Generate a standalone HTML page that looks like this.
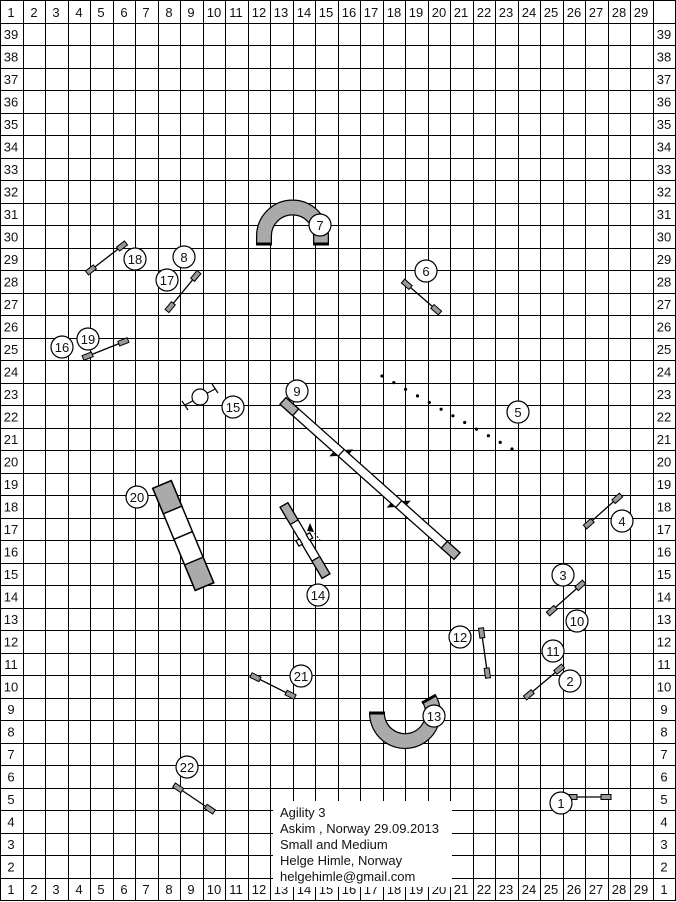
<!DOCTYPE html>
<html><head><meta charset="utf-8"><style>
html,body{margin:0;padding:0;background:#fff}
svg{display:block}
text{font-family:"Liberation Sans",sans-serif;font-size:13px;fill:#111}
</style></head><body>
<svg width="676" height="902" viewBox="0 0 676 902" xmlns="http://www.w3.org/2000/svg">
<defs>
<g id="wing"><rect x="0" y="-2.5" width="10" height="5" fill="#999" stroke="#000" stroke-width="1"/></g>
</defs>
<rect x="0" y="0" width="676" height="902" fill="#fff"/>
<path shape-rendering="crispEdges" stroke="#000" stroke-width="1" fill="none" d="
M0.5 0 V901 M23.5 0 V901 M45.5 0 V901 M68.5 0 V901 M90.5 0 V901 M113.5 0 V901 M135.5 0 V901 M158.5 0 V901 M180.5 0 V901 M203.5 0 V901 M225.5 0 V901 M248.5 0 V901 M270.5 0 V901 M293.5 0 V901 M315.5 0 V901 M338.5 0 V901 M360.5 0 V901 M383.5 0 V901 M405.5 0 V901 M428.5 0 V901 M450.5 0 V901 M473.5 0 V901 M495.5 0 V901 M518.5 0 V901 M540.5 0 V901 M563.5 0 V901 M585.5 0 V901 M608.5 0 V901 M630.5 0 V901 M653.5 0 V901 M675.5 0 V901
M0 0.5 H676 M0 23.5 H676 M0 45.5 H676 M0 68.5 H676 M0 90.5 H676 M0 113.5 H676 M0 135.5 H676 M0 158.5 H676 M0 180.5 H676 M0 203.5 H676 M0 225.5 H676 M0 248.5 H676 M0 270.5 H676 M0 293.5 H676 M0 315.5 H676 M0 338.5 H676 M0 360.5 H676 M0 383.5 H676 M0 405.5 H676 M0 428.5 H676 M0 450.5 H676 M0 473.5 H676 M0 495.5 H676 M0 518.5 H676 M0 540.5 H676 M0 563.5 H676 M0 585.5 H676 M0 608.5 H676 M0 630.5 H676 M0 653.5 H676 M0 675.5 H676 M0 698.5 H676 M0 720.5 H676 M0 743.5 H676 M0 765.5 H676 M0 788.5 H676 M0 810.5 H676 M0 833.5 H676 M0 855.5 H676 M0 878.5 H676 M0 900.5 H676"/>

<g text-anchor="middle">
<text x="11" y="17">1</text><text x="34" y="17">2</text><text x="56" y="17">3</text><text x="79" y="17">4</text><text x="101" y="17">5</text><text x="124" y="17">6</text><text x="146" y="17">7</text><text x="169" y="17">8</text><text x="191" y="17">9</text><text x="214" y="17">10</text><text x="236" y="17">11</text><text x="259" y="17">12</text><text x="281" y="17">13</text><text x="304" y="17">14</text><text x="326" y="17">15</text><text x="349" y="17">16</text><text x="371" y="17">17</text><text x="394" y="17">18</text><text x="416" y="17">19</text><text x="439" y="17">20</text><text x="461" y="17">21</text><text x="484" y="17">22</text><text x="506" y="17">23</text><text x="529" y="17">24</text><text x="551" y="17">25</text><text x="574" y="17">26</text><text x="596" y="17">27</text><text x="619" y="17">28</text><text x="641" y="17">29</text>
<text x="11" y="894">1</text><text x="34" y="894">2</text><text x="56" y="894">3</text><text x="79" y="894">4</text><text x="101" y="894">5</text><text x="124" y="894">6</text><text x="146" y="894">7</text><text x="169" y="894">8</text><text x="191" y="894">9</text><text x="214" y="894">10</text><text x="236" y="894">11</text><text x="259" y="894">12</text><text x="281" y="894">13</text><text x="304" y="894">14</text><text x="326" y="894">15</text><text x="349" y="894">16</text><text x="371" y="894">17</text><text x="394" y="894">18</text><text x="416" y="894">19</text><text x="439" y="894">20</text><text x="461" y="894">21</text><text x="484" y="894">22</text><text x="506" y="894">23</text><text x="529" y="894">24</text><text x="551" y="894">25</text><text x="574" y="894">26</text><text x="596" y="894">27</text><text x="619" y="894">28</text><text x="641" y="894">29</text>
</g>
<g text-anchor="middle">
<text x="11" y="39">39</text><text x="11" y="61.5">38</text><text x="11" y="84">37</text><text x="11" y="106.5">36</text><text x="11" y="129">35</text><text x="11" y="151.5">34</text><text x="11" y="174">33</text><text x="11" y="196.5">32</text><text x="11" y="219">31</text><text x="11" y="241.5">30</text><text x="11" y="264">29</text><text x="11" y="286.5">28</text><text x="11" y="309">27</text><text x="11" y="331.5">26</text><text x="11" y="354">25</text><text x="11" y="376.5">24</text><text x="11" y="399">23</text><text x="11" y="421.5">22</text><text x="11" y="444">21</text><text x="11" y="466.5">20</text><text x="11" y="489">19</text><text x="11" y="511.5">18</text><text x="11" y="534">17</text><text x="11" y="556.5">16</text><text x="11" y="579">15</text><text x="11" y="601.5">14</text><text x="11" y="624">13</text><text x="11" y="646.5">12</text><text x="11" y="669">11</text><text x="11" y="691.5">10</text><text x="11" y="714">9</text><text x="11" y="736.5">8</text><text x="11" y="759">7</text><text x="11" y="781.5">6</text><text x="11" y="804">5</text><text x="11" y="826.5">4</text><text x="11" y="849">3</text><text x="11" y="871.5">2</text>
<text x="664" y="39">39</text><text x="664" y="61.5">38</text><text x="664" y="84">37</text><text x="664" y="106.5">36</text><text x="664" y="129">35</text><text x="664" y="151.5">34</text><text x="664" y="174">33</text><text x="664" y="196.5">32</text><text x="664" y="219">31</text><text x="664" y="241.5">30</text><text x="664" y="264">29</text><text x="664" y="286.5">28</text><text x="664" y="309">27</text><text x="664" y="331.5">26</text><text x="664" y="354">25</text><text x="664" y="376.5">24</text><text x="664" y="399">23</text><text x="664" y="421.5">22</text><text x="664" y="444">21</text><text x="664" y="466.5">20</text><text x="664" y="489">19</text><text x="664" y="511.5">18</text><text x="664" y="534">17</text><text x="664" y="556.5">16</text><text x="664" y="579">15</text><text x="664" y="601.5">14</text><text x="664" y="624">13</text><text x="664" y="646.5">12</text><text x="664" y="669">11</text><text x="664" y="691.5">10</text><text x="664" y="714">9</text><text x="664" y="736.5">8</text><text x="664" y="759">7</text><text x="664" y="781.5">6</text><text x="664" y="804">5</text><text x="664" y="826.5">4</text><text x="664" y="849">3</text><text x="664" y="871.5">2</text><text x="664" y="894">1</text>
</g>

<rect x="273" y="801" width="179" height="86" fill="#fff"/>
<g style="font-size:12.5px">
<text x="280" y="817">Agility 3</text>
<text x="280" y="833">Askim , Norway 29.09.2013</text>
<text x="280" y="849">Small and Medium</text>
<text x="280" y="865">Helge Himle, Norway</text>
<text x="280" y="881">helgehimle@gmail.com</text>
</g>

<g stroke="#000" stroke-width="1.3">
<g transform="translate(567,797) rotate(0)"><line x1="0" y1="0" x2="44" y2="0"/><use href="#wing"/><use href="#wing" x="34"/></g>
<g transform="translate(525,698) rotate(-40.1)"><line x1="0" y1="0" x2="49.7" y2="0"/><use href="#wing"/><use href="#wing" x="39.7"/></g>
<g transform="translate(548,614) rotate(-41.6)"><line x1="0" y1="0" x2="48.2" y2="0"/><use href="#wing"/><use href="#wing" x="38.2"/></g>
<g transform="translate(585,527) rotate(-41.6)"><line x1="0" y1="0" x2="48.2" y2="0"/><use href="#wing"/><use href="#wing" x="38.2"/></g>
<g transform="translate(403,281) rotate(40.9)"><line x1="0" y1="0" x2="48.9" y2="0"/><use href="#wing"/><use href="#wing" x="38.9"/></g>
<g transform="translate(481,628) rotate(82)"><line x1="0" y1="0" x2="50.5" y2="0"/><use href="#wing"/><use href="#wing" x="40.5"/></g>
<g transform="translate(167,311) rotate(-50.6)"><line x1="0" y1="0" x2="50.4" y2="0"/><use href="#wing"/><use href="#wing" x="40.4"/></g>
<g transform="translate(87,273) rotate(-37.6)"><line x1="0" y1="0" x2="49.2" y2="0"/><use href="#wing"/><use href="#wing" x="39.2"/></g>
<g transform="translate(83,358) rotate(-21.8)"><line x1="0" y1="0" x2="48.5" y2="0"/><use href="#wing"/><use href="#wing" x="38.5"/></g>
<g transform="translate(251,675) rotate(26.6)"><line x1="0" y1="0" x2="49.2" y2="0"/><use href="#wing"/><use href="#wing" x="39.2"/></g>
<g transform="translate(174,785) rotate(34)"><line x1="0" y1="0" x2="48.3" y2="0"/><use href="#wing"/><use href="#wing" x="38.3"/></g>
</g>

<g fill="#000">
<circle cx="382" cy="376" r="1.6"/><circle cx="393.8" cy="382.6" r="1.6"/><circle cx="405.6" cy="389.3" r="1.6"/><circle cx="417.5" cy="395.9" r="1.6"/><circle cx="429.3" cy="402.5" r="1.6"/><circle cx="441.1" cy="409.2" r="1.6"/><circle cx="452.9" cy="415.8" r="1.6"/><circle cx="464.7" cy="422.5" r="1.6"/><circle cx="476.5" cy="429.1" r="1.6"/><circle cx="488.4" cy="435.7" r="1.6"/><circle cx="500.2" cy="442.4" r="1.6"/><circle cx="512" cy="449" r="1.6"/>
</g>

<g stroke="#000" stroke-width="1.2" fill="#fff">
<line x1="185" y1="405" x2="215" y2="389"/>
<line x1="182" y1="401" x2="188" y2="410"/><line x1="212" y1="384" x2="218" y2="393"/>
<circle cx="200" cy="397" r="8"/>
</g>

<!-- tunnel 7 -->
<path d="M264 243 V236 A28.5 28.5 0 0 1 321 236 V243" fill="none" stroke="#000" stroke-width="16"/>
<path d="M264 243 V236 A28.5 28.5 0 0 1 321 236 V243" fill="none" stroke="#aaa" stroke-width="13.5"/>
<line x1="256" y1="244" x2="272" y2="244" stroke="#000" stroke-width="3"/>
<line x1="313" y1="244" x2="329" y2="244" stroke="#000" stroke-width="3"/>

<!-- tunnel 13 -->
<path d="M377 713 A28 28 0 1 0 429.2 699" fill="none" stroke="#000" stroke-width="16"/>
<path d="M377 713 A28 28 0 1 0 429.2 699" fill="none" stroke="#aaa" stroke-width="13.5"/>
<line x1="369" y1="713" x2="385" y2="713" stroke="#000" stroke-width="3"/>
<line x1="422" y1="703" x2="436" y2="695" stroke="#000" stroke-width="3"/>

<g transform="translate(283,401) rotate(41.7)" stroke="#000" stroke-width="1.3">
<rect x="0" y="-4.5" width="233" height="9" fill="#fff"/>
<rect x="0" y="-4.5" width="17" height="9" fill="#aaa"/>
<rect x="216" y="-4.5" width="17" height="9" fill="#aaa"/>
<line x1="78" y1="-4.5" x2="78" y2="4.5"/><line x1="155" y1="-4.5" x2="155" y2="4.5"/>
<path d="M80 -5 L84 -9 L84 -5Z M76 5 L72 9 L72 5Z M157 -5 L161 -9 L161 -5Z M153 5 L149 9 L149 5Z" fill="#000"/>
</g>

<g transform="translate(284,505) rotate(59.4)" stroke="#000" stroke-width="1.3">
<rect x="0" y="-4.5" width="82.5" height="9" fill="#fff"/>
<rect x="0" y="-4.5" width="20" height="9" fill="#aaa"/>
<rect x="62.5" y="-4.5" width="20" height="9" fill="#aaa"/>
<rect x="37" y="-8" width="6" height="4" fill="#fff"/>
<rect x="37" y="4" width="6" height="4" fill="#fff"/>
</g>
<path d="M310 523 L314 532 L307 531Z" fill="#000"/>
<line x1="312" y1="530" x2="320" y2="540" stroke="#000" stroke-width="1" stroke-dasharray="2,2"/>

<g transform="translate(162,484.5) rotate(67.4)" stroke="#000" stroke-width="1.5">
<rect x="0" y="-10" width="110.5" height="20" fill="#fff"/>
<rect x="0" y="-10" width="27.6" height="20" fill="#aaa"/>
<rect x="82.9" y="-10" width="27.6" height="20" fill="#aaa"/>
<line x1="55.2" y1="-10" x2="55.2" y2="10"/>
</g>

<g stroke="#000" stroke-width="1.2" fill="#fff">
<circle cx="561" cy="803" r="11"/><circle cx="570" cy="681" r="11"/><circle cx="563" cy="575" r="11"/><circle cx="622" cy="521" r="11"/><circle cx="518" cy="412" r="11"/><circle cx="426" cy="271" r="11"/><circle cx="320" cy="225" r="11"/><circle cx="184" cy="257" r="11"/><circle cx="297" cy="391" r="11"/><circle cx="577" cy="621" r="11"/><circle cx="553" cy="651" r="11"/><circle cx="460" cy="637" r="11"/><circle cx="434" cy="716" r="11"/><circle cx="318" cy="595" r="11"/><circle cx="233" cy="407" r="11"/><circle cx="62" cy="347" r="11"/><circle cx="167" cy="280" r="11"/><circle cx="135" cy="259" r="11"/><circle cx="88" cy="339" r="11"/><circle cx="137" cy="497" r="11"/><circle cx="301" cy="676" r="11"/><circle cx="187" cy="767" r="11"/>
</g>
<g text-anchor="middle" style="font-size:12.5px">
<text x="561" y="808">1</text><text x="570" y="686">2</text><text x="563" y="580">3</text><text x="622" y="526">4</text><text x="518" y="417">5</text><text x="426" y="276">6</text><text x="320" y="230">7</text><text x="184" y="262">8</text><text x="297" y="396">9</text><text x="577" y="626">10</text><text x="553" y="656">11</text><text x="460" y="642">12</text><text x="434" y="721">13</text><text x="318" y="600">14</text><text x="233" y="412">15</text><text x="62" y="352">16</text><text x="167" y="285">17</text><text x="135" y="264">18</text><text x="88" y="344">19</text><text x="137" y="502">20</text><text x="301" y="681">21</text><text x="187" y="772">22</text>
</g>
</svg>
</body></html>
